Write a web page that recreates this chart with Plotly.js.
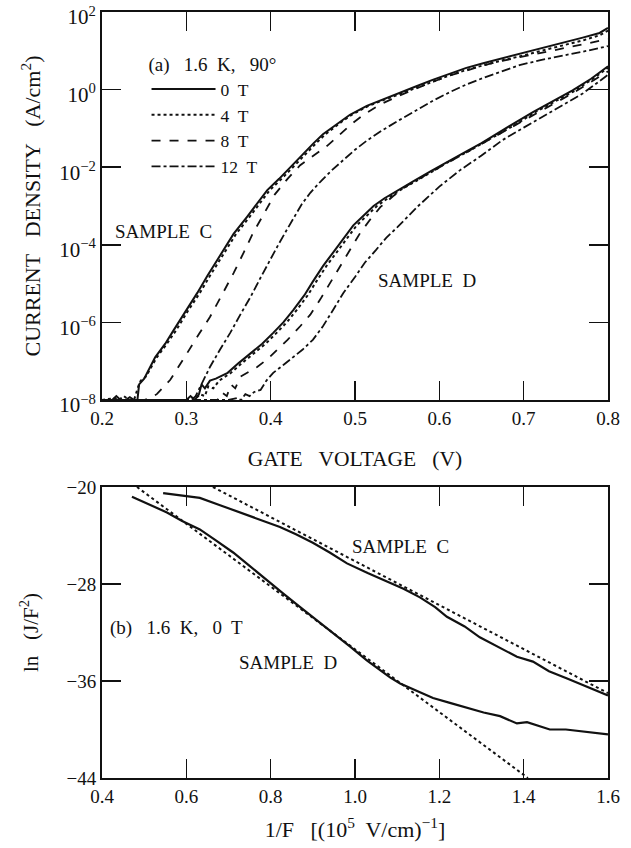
<!DOCTYPE html>
<html><head><meta charset="utf-8">
<script src="https://cdn.plot.ly/plotly-3.0.1.min.js"></script>
<style>body{margin:0;background:#fff}#g{width:631px;height:848px}</style>
</head><body><div id="g"></div>
<script>
// ---------- Panel (a): current density vs gate voltage (log10 J) ----------
const legendNames = ["0\u00a0 T", "4\u00a0 T", "8\u00a0 T", "12\u00a0 T"];

const C0_V = [0.20,0.212,0.217,0.222,0.228,0.233,0.238,0.242,0.244,0.25,0.263,0.275,0.285,0.30,0.313,0.325,0.337,0.356,0.372,0.384,0.396,0.41,0.423,0.437,0.451,0.462,0.474,0.484,0.494,0.514,0.533,0.553,0.572,0.592,0.612,0.632,0.652,0.672,0.692,0.711,0.731,0.751,0.77,0.79,0.80];
const C0_logJ = [-8,-8,-7.9,-8,-8,-7.93,-8,-8,-7.6,-7.45,-6.9,-6.55,-6.2,-5.7,-5.24,-4.8,-4.39,-3.72,-3.28,-2.92,-2.59,-2.3,-2.0,-1.68,-1.38,-1.15,-0.96,-0.8,-0.65,-0.42,-0.25,-0.09,0.08,0.25,0.41,0.56,0.68,0.79,0.9,1.0,1.12,1.23,1.34,1.46,1.59];

const C4_V = [0.20,0.215,0.22,0.226,0.232,0.238,0.243,0.246,0.252,0.265,0.277,0.288,0.302,0.316,0.328,0.34,0.359,0.375,0.387,0.399,0.413,0.426,0.44,0.454,0.465,0.476,0.486,0.496,0.516,0.535,0.555,0.574,0.594,0.614,0.634,0.654,0.674,0.694,0.713,0.733,0.753,0.772,0.79,0.80];
const C4_logJ = [-8,-7.95,-8,-7.9,-8,-8,-7.65,-7.5,-7.4,-6.9,-6.55,-6.2,-5.7,-5.24,-4.8,-4.39,-3.72,-3.28,-2.92,-2.59,-2.3,-2.0,-1.68,-1.38,-1.15,-0.96,-0.8,-0.65,-0.42,-0.26,-0.1,0.06,0.23,0.38,0.52,0.64,0.75,0.85,0.95,1.06,1.17,1.28,1.4,1.52];

const C8_V = [0.20,0.22,0.235,0.25,0.257,0.265,0.281,0.291,0.301,0.315,0.328,0.342,0.356,0.368,0.379,0.392,0.405,0.42,0.435,0.451,0.467,0.48,0.495,0.51,0.53,0.553,0.572,0.592,0.612,0.632,0.652,0.672,0.692,0.711,0.731,0.751,0.77,0.79,0.80];
const C8_logJ = [-8,-8,-8,-8,-7.95,-7.85,-7.48,-7.15,-6.79,-6.3,-5.86,-5.3,-4.73,-4.2,-3.70,-3.2,-2.7,-2.3,-1.95,-1.7,-1.45,-1.2,-0.9,-0.65,-0.38,-0.15,0.03,0.2,0.36,0.5,0.62,0.73,0.82,0.9,0.99,1.08,1.16,1.25,1.30];

const C12_V = [0.20,0.25,0.30,0.306,0.311,0.318,0.328,0.34,0.352,0.364,0.376,0.388,0.399,0.409,0.419,0.428,0.437,0.447,0.46,0.473,0.486,0.5,0.515,0.533,0.553,0.573,0.593,0.613,0.632,0.652,0.673,0.695,0.72,0.751,0.775,0.80];
const C12_logJ = [-8,-8,-8,-8,-7.9,-7.6,-7.15,-6.7,-6.27,-5.8,-5.35,-4.85,-4.39,-4.0,-3.62,-3.3,-2.95,-2.66,-2.35,-2.07,-1.81,-1.55,-1.3,-1.04,-0.78,-0.53,-0.28,-0.06,0.13,0.30,0.47,0.63,0.76,0.89,1.0,1.12];

const D0_V = [0.20,0.26,0.30,0.305,0.31,0.315,0.318,0.322,0.328,0.335,0.349,0.362,0.376,0.39,0.403,0.415,0.427,0.44,0.45,0.462,0.474,0.486,0.498,0.51,0.522,0.535,0.55,0.57,0.59,0.61,0.63,0.65,0.672,0.69,0.711,0.735,0.758,0.78,0.80];
const D0_logJ = [-8,-8,-8,-7.9,-8,-7.85,-7.6,-7.7,-7.5,-7.45,-7.3,-7.05,-6.79,-6.55,-6.27,-6.0,-5.68,-5.3,-4.95,-4.55,-4.2,-3.85,-3.5,-3.25,-3.0,-2.8,-2.6,-2.35,-2.1,-1.85,-1.62,-1.38,-1.1,-0.85,-0.58,-0.3,-0.02,0.28,0.6];

const D4_V = [0.20,0.30,0.31,0.316,0.322,0.326,0.332,0.339,0.353,0.366,0.38,0.394,0.407,0.419,0.431,0.444,0.454,0.466,0.478,0.49,0.502,0.514,0.526,0.539,0.553,0.573,0.592,0.612,0.632,0.652,0.673,0.692,0.712,0.736,0.759,0.78,0.80];
const D4_logJ = [-8,-8,-8,-7.85,-7.9,-7.65,-7.7,-7.5,-7.3,-7.05,-6.79,-6.55,-6.27,-6.0,-5.68,-5.3,-4.95,-4.55,-4.2,-3.85,-3.5,-3.25,-3.0,-2.8,-2.6,-2.35,-2.1,-1.85,-1.62,-1.38,-1.12,-0.88,-0.6,-0.32,-0.05,0.25,0.56];

const D8_V = [0.20,0.30,0.337,0.342,0.348,0.353,0.358,0.364,0.372,0.384,0.396,0.408,0.42,0.435,0.447,0.459,0.47,0.482,0.494,0.506,0.518,0.53,0.545,0.56,0.58,0.60,0.62,0.64,0.66,0.68,0.70,0.72,0.74,0.76,0.78,0.80];
const D8_logJ = [-8,-8,-8,-7.8,-7.9,-7.6,-7.7,-7.4,-7.3,-7.15,-6.95,-6.7,-6.45,-6.1,-5.8,-5.4,-5.0,-4.57,-4.12,-3.7,-3.35,-3.03,-2.75,-2.5,-2.25,-2.0,-1.76,-1.52,-1.28,-1.04,-0.8,-0.56,-0.32,-0.07,0.2,0.47];

const D12_V = [0.20,0.35,0.36,0.365,0.37,0.375,0.38,0.388,0.395,0.403,0.415,0.427,0.438,0.45,0.462,0.474,0.486,0.50,0.512,0.525,0.537,0.55,0.575,0.60,0.625,0.65,0.675,0.70,0.735,0.77,0.80];
const D12_logJ = [-8,-8,-7.95,-8,-7.85,-7.9,-7.8,-7.74,-7.5,-7.3,-7.1,-6.89,-6.7,-6.45,-6.1,-5.68,-5.25,-4.83,-4.45,-4.13,-3.82,-3.55,-3.0,-2.5,-2.07,-1.7,-1.3,-0.98,-0.53,-0.1,0.38];

const aTickVals = [1e-8,1e-6,1e-4,1e-2,1e0,1e2];
const aTickExp = ["\u22128","\u22126","\u22124","\u22122","0","2"];
const aXTicks = [0.2,0.3,0.4,0.5,0.6,0.7,0.8];

// ---------- Panel (b): ln(J/F^2) vs 1/F ----------
const bC_invF = [0.545,0.59,0.632,0.68,0.727,0.775,0.822,0.86,0.90,0.94,0.981,1.03,1.076,1.115,1.154,1.19,1.218,1.26,1.296,1.34,1.384,1.422,1.46,1.503,1.55,1.60];
const bC_ln = [-20.5,-20.7,-20.9,-21.5,-22.1,-22.7,-23.3,-23.9,-24.6,-25.4,-26.3,-27.1,-27.8,-28.4,-29.1,-29.9,-30.7,-31.5,-32.4,-33.2,-34.0,-34.4,-35.2,-35.8,-36.5,-37.2];
const bCfit_invF = [0.663,1.60];
const bCfit_ln = [-20.0,-37.0];
const bD_invF = [0.471,0.51,0.554,0.59,0.632,0.67,0.711,0.75,0.791,0.83,0.870,0.91,0.948,0.99,1.028,1.06,1.083,1.107,1.145,1.185,1.225,1.266,1.305,1.344,1.384,1.408,1.435,1.462,1.50,1.55,1.60];
const bD_ln = [-20.8,-21.4,-22.1,-22.8,-23.5,-24.4,-25.4,-26.5,-27.7,-28.8,-29.9,-31.0,-32.0,-33.2,-34.3,-35.1,-35.7,-36.2,-36.8,-37.4,-37.8,-38.2,-38.6,-38.9,-39.5,-39.4,-39.7,-40.0,-40.0,-40.2,-40.4];
const bDfit_invF = [0.483,1.41];
const bDfit_ln = [-20.0,-44.0];
const bXTicks = [0.4,0.6,0.8,1.0,1.2,1.4,1.6];
const bYTicks = [-44,-36,-28,-20];

const pow10 = a => a.map(e => Math.pow(10, e));
const FONT = "Liberation Serif, Times New Roman, serif";
const INK = "#111";
const S2 = "\u00a0\u00a0 ";
const styles = [{dash:"solid",width:2},{dash:"dot",width:2},{dash:"dash",width:1.8},{dash:"dashdot",width:1.8}];

const Cset = [[C0_V,C0_logJ],[C4_V,C4_logJ],[C8_V,C8_logJ],[C12_V,C12_logJ]];
const Dset = [[D0_V,D0_logJ],[D4_V,D4_logJ],[D8_V,D8_logJ],[D12_V,D12_logJ]];

const traces = [];
Cset.forEach((s,i) => traces.push({x:s[0], y:pow10(s[1]), xaxis:"x", yaxis:"y", mode:"lines",
  name:legendNames[i], showlegend:true, line:{color:INK, width:styles[i].width, dash:styles[i].dash}}));
Dset.forEach((s,i) => traces.push({x:s[0], y:pow10(s[1]), xaxis:"x", yaxis:"y", mode:"lines",
  name:legendNames[i]+" D", showlegend:false, line:{color:INK, width:styles[i].width, dash:styles[i].dash}}));
traces.push({x:bC_invF, y:bC_ln, xaxis:"x2", yaxis:"y2", mode:"lines", showlegend:false, line:{color:INK,width:2.2}});
traces.push({x:bCfit_invF, y:bCfit_ln, xaxis:"x2", yaxis:"y2", mode:"lines", showlegend:false, line:{color:INK,width:2,dash:"dot"}});
traces.push({x:bD_invF, y:bD_ln, xaxis:"x2", yaxis:"y2", mode:"lines", showlegend:false, line:{color:INK,width:2.2}});
traces.push({x:bDfit_invF, y:bDfit_ln, xaxis:"x2", yaxis:"y2", mode:"lines", showlegend:false, line:{color:INK,width:2,dash:"dot"}});

const axCommon = {showline:true, linecolor:INK, linewidth:2, mirror:"ticks", ticks:"inside", ticklen:19,
  tickwidth:1.5, tickcolor:INK, showgrid:false, zeroline:false, ticklabeloverflow:"allow",
  tickfont:{family:FONT,size:19,color:INK}};

const layout = {
  width:631, height:848, paper_bgcolor:"#fff", plot_bgcolor:"#fff",
  margin:{l:102, r:23, t:12, b:70},
  font:{family:FONT, color:INK, size:19},
  showlegend:true,
  legend:{x:0.088, y:0.955, xanchor:"left", yanchor:"top", bgcolor:"rgba(0,0,0,0)",
    font:{family:FONT,size:17.5,color:INK}, itemwidth:64, tracegroupgap:0,
    title:{text:"(a)"+S2+"1.6\u00a0 K,"+S2+"90\u00b0", font:{family:FONT,size:19,color:INK}}},
  xaxis:Object.assign({}, axCommon, {domain:[0,1], anchor:"y", range:[0.2,0.8], tickvals:aXTicks,
    ticktext:aXTicks.map(v=>v.toFixed(1)),
    title:{text:"GATE"+S2+"VOLTAGE"+S2+"(V)", font:{family:FONT,size:21.5,color:INK}, standoff:23}}),
  yaxis:Object.assign({}, axCommon, {domain:[0.4935,1], anchor:"x", type:"log", range:[-8,2],
    tickvals:aTickVals, ticklabelshift:5,
    tickfont:{family:FONT,size:21,color:INK},
    ticktext:aTickExp.map(e=>"10<sup>"+e+"</sup>"),
    title:{text:"CURRENT"+S2+"DENSITY"+S2+"(A/cm<sup>2</sup>)", font:{family:FONT,size:22,color:INK}, standoff:12}}),
  xaxis2:Object.assign({}, axCommon, {domain:[0,1], anchor:"y2", range:[0.4,1.6], tickvals:bXTicks,
    ticktext:bXTicks.map(v=>v.toFixed(1)),
    title:{text:"1/F"+S2+"[(10<sup>5</sup>\u00a0 V/cm)<sup>\u22121</sup>]", font:{family:FONT,size:22,color:INK}, standoff:16}}),
  yaxis2:Object.assign({}, axCommon, {domain:[0,0.3799], anchor:"x2", range:[-44,-20], tickvals:bYTicks,
    ticktext:bYTicks.map(v=>"\u2212"+Math.abs(v)),
    title:{text:"ln"+S2+"(J/F<sup>2</sup>)", font:{family:FONT,size:21,color:INK}, standoff:22}}),
  annotations:[
    {xref:"x", yref:"y", x:0.273, y:-3.67, text:"SAMPLE\u00a0\u00a0C", showarrow:false, font:{family:FONT,size:19,color:INK}},
    {xref:"x", yref:"y", x:0.585, y:-4.93, text:"SAMPLE\u00a0\u00a0D", showarrow:false, font:{family:FONT,size:19,color:INK}},
    {xref:"x2", yref:"y2", x:1.107, y:-24.9, text:"SAMPLE\u00a0\u00a0C", showarrow:false, font:{family:FONT,size:19,color:INK}},
    {xref:"x2", yref:"y2", x:0.841, y:-34.5, text:"SAMPLE\u00a0\u00a0D", showarrow:false, font:{family:FONT,size:19,color:INK}},
    {xref:"x2", yref:"y2", x:0.415, y:-31.6, xanchor:"left", text:"(b)"+S2+"1.6\u00a0 K,"+S2+"0\u00a0 T", showarrow:false, font:{family:FONT,size:19,color:INK}}
  ]
};
Plotly.newPlot("g", traces, layout, {staticPlot:true, displayModeBar:false});
</script></body></html>
